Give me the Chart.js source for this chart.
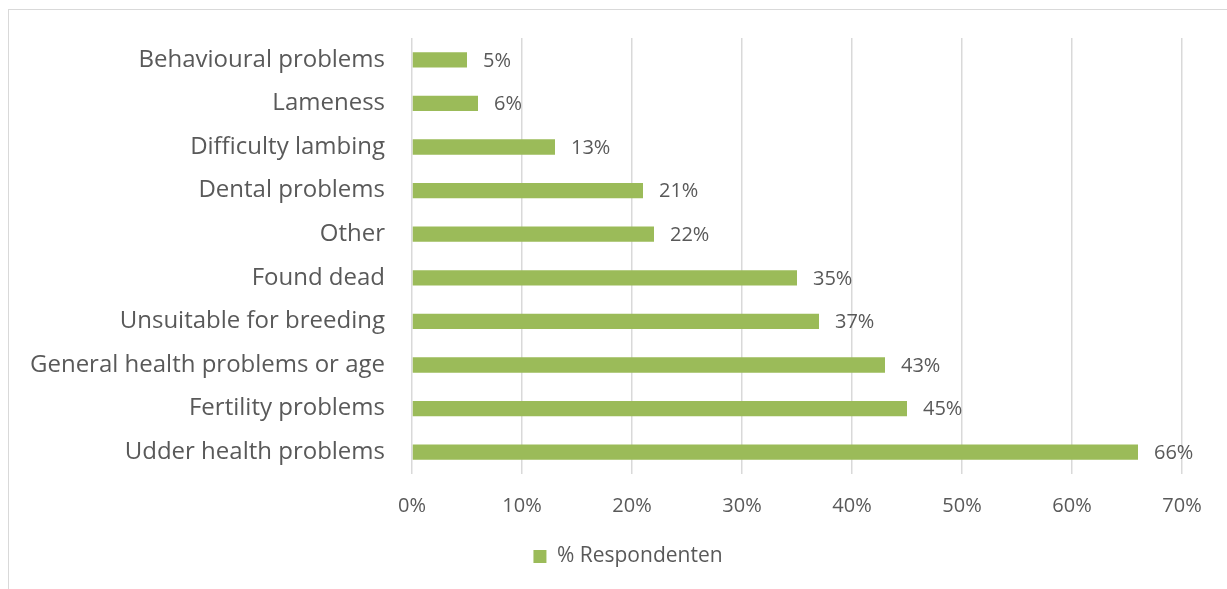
<!DOCTYPE html>
<html>
<head>
<meta charset="utf-8">
<script src="https://cdn.jsdelivr.net/npm/chart.js@4/dist/chart.umd.min.js"></script>
<style>
  html, body { margin: 0; padding: 0; background: #fff; overflow: hidden; }
  #wrap { position: relative; width: 1227px; height: 589px; }
  #frame {
    position: absolute; left: 8px; top: 9px; width: 1300px; height: 700px;
    border-left: 1px solid #d9d9d9; border-top: 1px solid #d9d9d9;
    pointer-events: none;
  }
  canvas { position: absolute; left: 0; top: 0; }
</style>
</head>
<body>
<div id="wrap">
  <div id="frame"></div>
  <canvas id="chart" width="1227" height="589"></canvas>
</div>
<script>
const categories = [
  "Behavioural problems",
  "Lameness",
  "Difficulty lambing",
  "Dental problems",
  "Other",
  "Found dead",
  "Unsuitable for breeding",
  "General health problems or age",
  "Fertility problems",
  "Udder health problems"
];
const respondents = [5, 6, 13, 21, 22, 35, 37, 43, 45, 66];
const xTicks = [0, 10, 20, 30, 40, 50, 60, 70];

const textColor = "#595959";
const barColor = "#9bbb59";
const fontFamily = "'Open Sans', sans-serif";

// percentage labels to the right of each bar
const barLabels = {
  id: "barLabels",
  afterDatasetsDraw(chart) {
    const ctx = chart.ctx;
    const meta = chart.getDatasetMeta(0);
    ctx.save();
    ctx.font = "20px " + fontFamily;
    ctx.fillStyle = textColor;
    ctx.textAlign = "left";
    ctx.textBaseline = "middle";
    meta.data.forEach((bar, i) => {
      const v = chart.data.datasets[0].data[i];
      ctx.fillText(Math.round(v) + "%", bar.x + 16, bar.y + 1);
    });
    ctx.restore();
  }
};

// nudge the legend a little to the right of the canvas centre
const legendShift = {
  id: "legendShift",
  afterLayout(chart) {
    if (chart.legend) {
      chart.legend.left += 32;
      chart.legend.right += 32;
    }
  }
};

new Chart(document.getElementById("chart"), {
  type: "bar",
  data: {
    labels: categories,
    datasets: [
      {
        label: "% Respondenten",
        data: respondents,
        backgroundColor: barColor,
        borderWidth: 0,
        barPercentage: 0.7,
        categoryPercentage: 0.5,
      },
    ],
  },
  options: {
    indexAxis: "y",
    responsive: false,
    animation: false,
    layout: {
      padding: { left: 10, right: 45, top: 38, bottom: 12 },
    },
    plugins: {
      tooltip: { enabled: false },
      legend: {
        position: "bottom",
        labels: {
          color: textColor,
          font: { family: fontFamily, size: 21 },
          boxWidth: 13,
          boxHeight: 13,
          padding: 8,
        },
      },
    },
    scales: {
      x: {
        min: 0,
        max: 70,
        afterBuildTicks(scale) {
          scale.ticks = xTicks.map((v) => ({ value: v }));
        },
        border: { display: false },
        grid: {
          color: "#d9d9d9",
          lineWidth: 1.5,
          drawTicks: false,
        },
        ticks: {
          color: textColor,
          font: { family: fontFamily, size: 20 },
          padding: 20,
          callback: (v) => v + "%",
        },
      },
      y: {
        border: { display: false },
        grid: { display: false },
        afterFit(scale) {
          scale.width = 402;
        },
        ticks: {
          color: textColor,
          font: { family: fontFamily, size: 24 },
          padding: 19,
        },
      },
    },
  },
  plugins: [barLabels, legendShift],
});
</script>
</body>
</html>
